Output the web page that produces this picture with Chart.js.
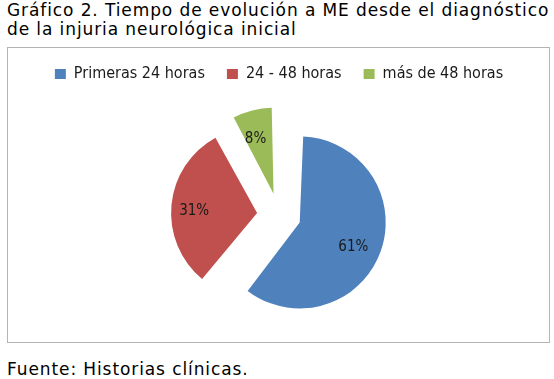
<!DOCTYPE html>
<html>
<head>
<meta charset="utf-8">
<script src="https://cdn.jsdelivr.net/npm/chart.js@4/dist/chart.umd.min.js"></script>
<style>
  body { margin: 0; background: #fff; width: 554px; height: 379px; position: relative; overflow: hidden; }
  .txt { position: absolute; left: 7px; font-family: "DejaVu Sans", Verdana, sans-serif; font-size: 17px; letter-spacing: 0.9px; color: #000; line-height: 19px; white-space: nowrap; }
  #title { top: 1px; }
  #fuente { top: 360px; }
  #caja { position: absolute; left: 7px; top: 47px; width: 541px; height: 294px; border: 1px solid #b4b4b4; }
  #lienzo { position: absolute; left: 10px; top: 44px; }
</style>
</head>
<body>
<div id="title" class="txt">Gráfico 2. Tiempo de evolución a ME desde el diagnóstico<br>de la injuria neurológica inicial</div>
<div id="caja"></div>
<div id="lienzo"><canvas id="pieChart" width="540" height="294"></canvas></div>
<div id="fuente" class="txt">Fuente: Historias clínicas.</div>
<script>
const categorias = ['Primeras 24 horas', '24 - 48 horas', 'más de 48 horas'];
const porcentajes = [61, 31, 8];
const colores = ['#4F81BD', '#C0504D', '#9BBB59'];

// Chart.js agranda el radio de los sectores separados; se deja igual para todos
const radioParejo = {
    id: 'radioParejo',
    beforeDatasetDraw(chart, args) {
        args.meta.data.forEach(arc => {
            const off = (arc.options.offset || 0) / 4;
            const fix = 1 - Math.sin(Math.min(Math.PI, arc.circumference || 0));
            arc._radioOrig = arc.outerRadius;
            arc.outerRadius -= off * fix;
        });
    },
    afterDatasetDraw(chart, args) {
        args.meta.data.forEach(arc => { arc.outerRadius = arc._radioOrig; });
    }
};

// etiquetas de porcentaje dentro de cada sector
const etiquetas = {
    id: 'etiquetas',
    afterDatasetsDraw(chart) {
        const ctx = chart.ctx;
        const meta = chart.getDatasetMeta(0);
        const data = chart.data.datasets[0].data;
        const total = data.reduce((a, b) => a + b, 0);
        ctx.save();
        ctx.font = '15px "DejaVu Sans Condensed", "DejaVu Sans", sans-serif';
        ctx.fillStyle = '#1a1a1a';
        ctx.textAlign = 'center';
        ctx.textBaseline = 'middle';
        meta.data.forEach((arc, i) => {
            const mid = (arc.startAngle + arc.endAngle) / 2;
            const d = (arc.options.offset || 0) / 4 + arc.outerRadius * 0.7;
            const x = arc.x + Math.cos(mid) * d - 3;
            const y = arc.y + Math.sin(mid) * d + 4;
            ctx.fillText(Math.round(data[i] / total * 100) + '%', x, y);
        });
        ctx.restore();
    }
};

const ctx = document.getElementById('pieChart').getContext('2d');
const grafico = new Chart(ctx, {
    type: 'pie',
    data: {
        labels: categorias,
        datasets: [{
            data: porcentajes,
            backgroundColor: colores,
            borderWidth: 0,
            offset: 88 // se divide entre 4 al dibujar => ~22px
        }]
    },
    options: {
        responsive: false,
        animation: false,
        events: [],
        radius: 86,
        layout: { padding: { left: 0, right: 2, top: 0, bottom: 0 } },
        plugins: {
            legend: {
                position: 'top',
                labels: {
                    boxWidth: 11,
                    boxHeight: 10,
                    padding: 22,
                    color: '#1a1a1a',
                    font: { family: '"DejaVu Sans Condensed", "DejaVu Sans", sans-serif', size: 16 }
                }
            },
            tooltip: { enabled: false }
        }
    },
    plugins: [radioParejo, etiquetas]
});
</script>
</body>
</html>
